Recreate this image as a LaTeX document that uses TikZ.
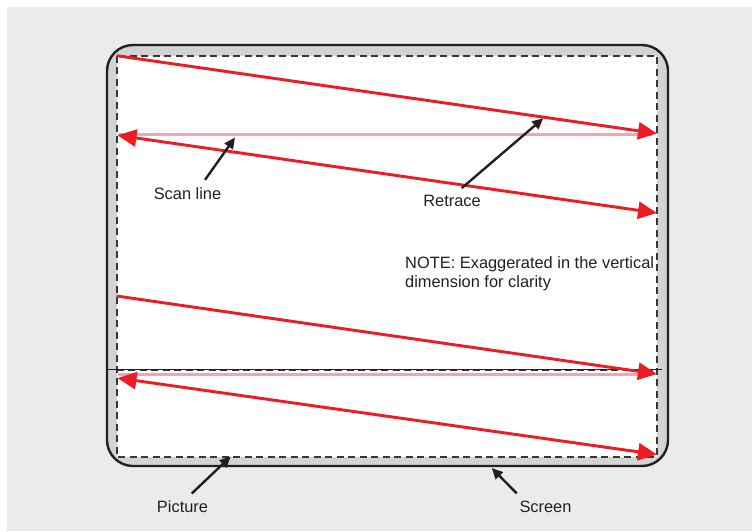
\documentclass[tikz,border=0pt]{standalone}
\usepackage{fontspec}
\setmainfont{Liberation Sans}
\usetikzlibrary{arrows.meta,positioning}
\definecolor{pagegray}{HTML}{EBEBED}
\definecolor{screengray}{HTML}{D1D3D4}
\definecolor{beamred}{HTML}{ED1C24}
\definecolor{retracepink}{HTML}{F4A3B4}
\definecolor{inkblack}{HTML}{231F20}
\tikzset{
  beam/.style={draw=beamred,line width=2.9pt,-{Triangle[length=19pt,width=17pt]}},
  beamboth/.style={beam,{Triangle[length=19pt,width=17pt]}-{Triangle[length=19pt,width=17pt]}},
  flyback/.style={draw=retracepink,line width=2.4pt},
  pointer/.style={draw=inkblack,line width=2.4pt,-{Triangle[length=11pt,width=10pt]}},
  callout/.style={inner sep=0pt,text=inkblack,font=\fontsize{16.4}{19}\selectfont},
  picframe/.style={draw=inkblack!90,line width=2pt,dash pattern=on 7pt off 4.5pt}
}

\begin{document}
\begin{tikzpicture}[x=1pt,y=-1pt]
        \useasboundingbox (0,0) rectangle (752,531);
        \fill[white] (0,0) rectangle (752,531);
        \fill[pagegray] (7,7) rectangle (752,531);
        % screen and the picture area inside it
        \filldraw[fill=screengray,draw=inkblack,line width=2.4pt,rounded corners=26pt]
          (107,45) rectangle (668,466);
        \fill[white] (116.5,55.5) rectangle (657,456.5);
        \draw[picframe] (116.5,55.5) rectangle (657,456.5);
        \draw[picframe] (116.5,369.5) -- (657,369.5);
        \draw[inkblack,line width=1pt] (107,369.5) -- (662,369.5);
        % end points of the beam paths
        \coordinate (l1s) at (116.5,55.7);
        \coordinate (l1e) at (657,133.5);
        \coordinate (l2s) at (117.5,135.3);
        \coordinate (l2e) at (657,213);
        \coordinate (l3s) at (116.5,296);
        \coordinate (l3e) at (657,374);
        \coordinate (l4s) at (117.5,378);
        \coordinate (l4e) at (657,454.5);
        \coordinate (p1s) at (118,134.5);
        \coordinate (p1e) at (652,134.5);
        \coordinate (p2s) at (118,374.5);
        \coordinate (p2e) at (652,374.5);
        \path[flyback] (p1s) edge (p1e) (p2s) edge (p2e);
        \path (l1s) edge[beam] (l1e)
              (l2s) edge[beamboth] (l2e)
              (l3s) edge[beam] (l3e)
              (l4s) edge[beamboth] (l4e);
        % labels and their pointers
        \node[callout,anchor=base] (scanlbl) at (187.5,199.7) {Scan line};
        \node[callout,anchor=base] (retracelbl) at (452,206.7) {Retrace};
        \node[callout,anchor=base] (picturelbl) at (182.5,512.4) {Picture};
        \node[callout,anchor=base] (screenlbl) at (545.5,512.4) {Screen};
        \node[callout,anchor=north west,align=left] (notelbl) at (405,256.5)
          {NOTE: Exaggerated in the vertical\\dimension for clarity};
        \coordinate (scantip) at (235,137.5);
        \coordinate (retracetip) at (543.3,118.3);
        \coordinate (picturetip) at (230.7,456.5);
        \coordinate (screentip) at (491.7,468);
        \draw[pointer] ([shift={(17.5,-14)}]scanlbl.center) -- (scantip);
        \draw[pointer] ([shift={(9.7,-13)}]retracelbl.center) -- (retracetip);
        \draw[pointer] ([shift={(9.2,-13)}]picturelbl.center) -- (picturetip);
        \draw[pointer] ([shift={(-28.8,-13.4)}]screenlbl.center) -- (screentip);
\end{tikzpicture}
\end{document}
